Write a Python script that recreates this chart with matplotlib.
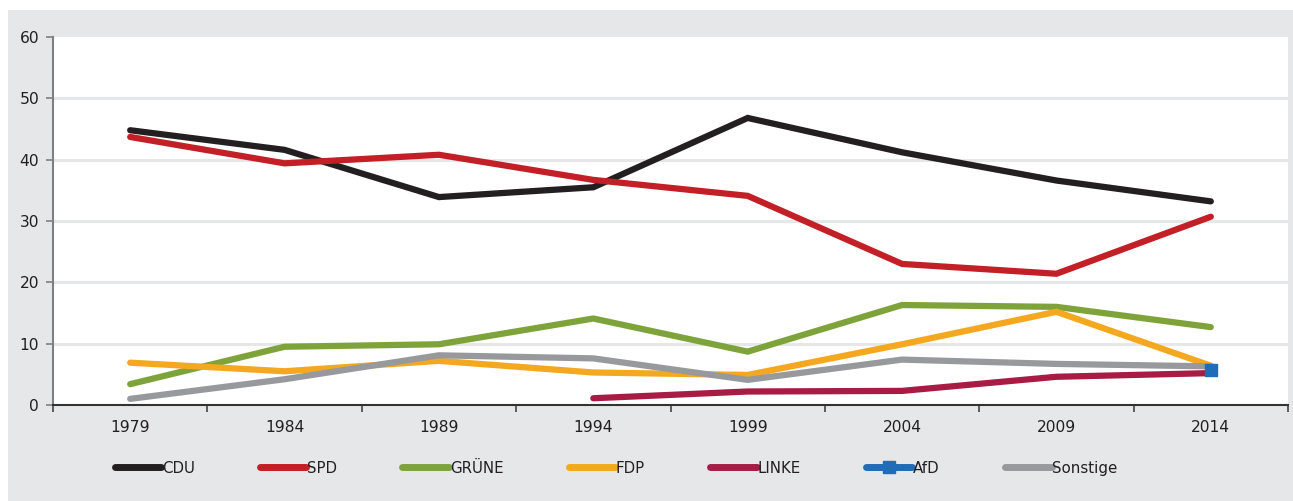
import matplotlib
matplotlib.use("Agg")
import matplotlib.pyplot as plt
from matplotlib.lines import Line2D
from matplotlib.patches import Rectangle
import numpy as np

years = ["1979", "1984", "1989", "1994", "1999", "2004", "2009", "2014"]
cdu = [44.8, 41.6, 33.9, 35.5, 46.8, 41.2, 36.6, 33.2]
spd = [43.7, 39.4, 40.8, 36.7, 34.1, 23.0, 21.4, 30.7]
gruene = [3.4, 9.5, 9.9, 14.1, 8.7, 16.3, 16.0, 12.7]
fdp = [6.9, 5.5, 7.2, 5.3, 4.9, 9.9, 15.2, 6.4]
linke = [None, None, None, 1.1, 2.2, 2.3, 4.6, 5.2]
afd = [None, None, None, None, None, None, None, 5.7]
sonstige = [1.0, 4.2, 8.1, 7.6, 4.1, 7.4, 6.7, 6.3]
yticks = [0, 10, 20, 30, 40, 50, 60]

series = [
    ("CDU", cdu, "#231f20"),
    ("SPD", spd, "#c21f26"),
    ("GRÜNE", gruene, "#7fa33b"),
    ("FDP", fdp, "#f3a81f"),
    ("LINKE", linke, "#a81b45"),
    ("AfD", afd, "#1f6cb8"),
    ("Sonstige", sonstige, "#98999c"),
]

BG = "#e6e7e8"
fig = plt.figure(figsize=(12.93, 5.01), dpi=100, facecolor="white")
fig.patches.append(Rectangle((8 / 1293, 0), 1 - 8 / 1293, 1 - 10 / 501,
                             transform=fig.transFigure, facecolor=BG,
                             edgecolor="none", zorder=-10))

ax = fig.add_axes([53 / 1293, 1 - 405 / 501, (1288 - 53) / 1293, (405 - 37) / 501])
ax.set_facecolor("white")

x = np.arange(len(years))
handles = []
for name, vals, col in series:
    v = np.array([np.nan if a is None else a for a in vals], dtype=float)
    if name == "AfD":
        ax.plot(x, v, color=col, marker="s", markersize=8, linestyle="none", zorder=10)
        h = Line2D([], [], color=col, lw=5, solid_capstyle="round",
                   marker="s", markersize=8, markevery=[1])
    else:
        ax.plot(x, v, color=col, lw=4.5, solid_capstyle="round",
                solid_joinstyle="miter", zorder=3)
        h = Line2D([], [], color=col, lw=5, solid_capstyle="round")
    handles.append(h)

ax.set_xlim(-0.5, len(years) - 0.5)
ax.set_ylim(0, 60)
ax.set_yticks(yticks)
ax.set_yticklabels([str(t) for t in yticks])
ax.set_xticks(np.arange(-0.5, len(years), 1.0))
ax.set_xticklabels([])
ax.set_xticks(x, minor=True)
ax.set_xticklabels(years, minor=True)
ax.tick_params(axis="x", which="minor", length=0, pad=11, labelsize=11.2, labelcolor="#231f20")
ax.tick_params(axis="x", which="major", length=5, width=1.2, color="#444444", direction="out")
ax.tick_params(axis="y", length=5, width=1.2, color="#808080", pad=5, labelsize=11.2,
               labelcolor="#231f20")
for t in yticks[1:-1]:
    ax.axhline(t, color=BG, lw=2.2, zorder=1)

for s in ["top", "right"]:
    ax.spines[s].set_visible(False)
ax.spines["left"].set_color("#808080")
ax.spines["left"].set_linewidth(1.5)
ax.spines["bottom"].set_color("#333333")
ax.spines["bottom"].set_linewidth(1.5)
ax.spines["bottom"].set_zorder(5)

leg = fig.legend(handles, [s[0] for s in series], loc="center",
                 bbox_to_anchor=(0.4765, 1 - 468 / 501), ncol=7, frameon=False,
                 handlelength=3.1, handletextpad=0.05, columnspacing=4.35,
                 prop={"family": ["Liberation Sans Narrow", "DejaVu Sans"], "size": 10.8})
for t in leg.get_texts():
    t.set_color("#231f20")

fig.savefig("out.png", dpi=100, facecolor="white")
